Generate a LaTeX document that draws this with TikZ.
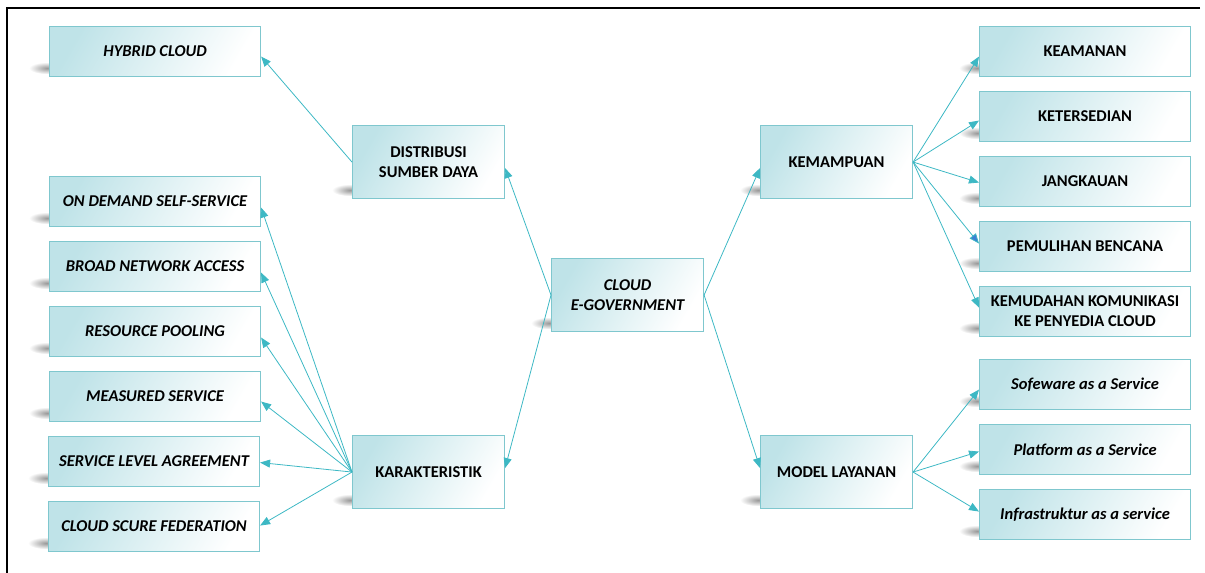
\documentclass[tikz,border=0pt]{standalone}
\usepackage{fontspec}
\setmainfont{Carlito}
\usetikzlibrary{arrows.meta}
\definecolor{edgec}{HTML}{7FC7CE}
\definecolor{boxL}{HTML}{BFE3E8}
\definecolor{arr}{HTML}{3DB8C4}
\definecolor{arrB}{HTML}{3B80D4}
\pgfdeclarelayer{background}
\pgfsetlayers{background,main}
\begin{document}
\begin{tikzpicture}[x=1pt,y=-1pt,
  box/.style={draw=edgec, line width=1.1pt, left color=boxL, right color=white, shading angle=60,
    anchor=north west, inner sep=0pt, align=center,
    font=\fontsize{16.5}{20}\selectfont\bfseries},
  ibox/.style={box, font=\fontsize{16.5}{20}\selectfont\bfseries\itshape},
  sidebox/.style={minimum width=211pt, minimum height=50pt},
  midbox/.style={minimum width=152pt, minimum height=73pt},
  link/.style={draw=arr, line width=0.8pt, -{Triangle[length=10pt,width=8pt]}},
  frame/.style={line width=2pt, draw=black}
]
\useasboundingbox (0,0) rectangle (1205,573);
\draw[frame] (1200,8) -- (7,8) -- (7,573);

% left column
\node[ibox, sidebox] (hyb) at (49,26) {HYBRID CLOUD};
\node[ibox, sidebox] (ond) at (49,176) {ON DEMAND SELF-SERVICE};
\node[ibox, sidebox] (bro) at (49,241) {BROAD NETWORK ACCESS};
\node[ibox, sidebox] (res) at (49,306) {RESOURCE POOLING};
\node[ibox, sidebox] (mea) at (49,371) {MEASURED SERVICE};
\node[ibox, sidebox] (sla) at (48,436) {SERVICE LEVEL AGREEMENT};
\node[ibox, sidebox] (csf) at (48,501) {CLOUD SCURE FEDERATION};

% middle
\node[box, midbox] (dis) at (352,125) {DISTRIBUSI\\SUMBER DAYA};
\node[box, midbox] (kar) at (352,435) {KARAKTERISTIK};
\node[ibox, midbox] (cld) at (551,258) {CLOUD\\E-GOVERNMENT};
\node[box, midbox] (kem) at (760,125) {KEMAMPUAN};
\node[box, midbox] (mod) at (760,435) {MODEL LAYANAN};

% right column
\node[box, sidebox] (kea) at (979,26) {KEAMANAN};
\node[box, sidebox] (ket) at (979,91) {KETERSEDIAN};
\node[box, sidebox] (jan) at (979,156) {JANGKAUAN};
\node[box, sidebox] (pem) at (979,221) {PEMULIHAN BENCANA};
\node[box, sidebox] (kmd) at (979,286) {KEMUDAHAN KOMUNIKASI\\KE PENYEDIA CLOUD};
\node[ibox, sidebox] (sof) at (979,359) {Sofeware as a Service};
\node[ibox, sidebox] (pla) at (979,424) {Platform as a Service};
\node[ibox, sidebox] (inf) at (979,489) {Infrastruktur as a service};

% shadows
\begin{pgfonlayer}{background}
\foreach \n in {hyb,ond,bro,res,mea,sla,csf,dis,kar,cld,kem,mod,kea,ket,jan,pem,kmd,sof,pla,inf}{
  \shade[inner color=black!40, outer color=white] ([xshift=-2pt,yshift=9pt]\n.south west) ellipse (18pt and 6pt);
}
\end{pgfonlayer}

% connectors
\draw[link] (dis.west) -- ([yshift=-5pt]hyb.east);
\draw[link] (cld.west) -- ([yshift=-6pt]dis.east);
\draw[link] (cld.west) -- ([yshift=4pt]kar.east);
\draw[link] (cld.east) -- ([yshift=-6pt]kem.west);
\draw[link] (cld.east) -- ([yshift=4pt]mod.west);

\draw[link] (kem.east) -- ([yshift=-5pt]kea.west);
\draw[link] (kem.east) -- ([yshift=-4pt]ket.west);
\draw[link] (kem.east) -- ([yshift=-1pt]jan.west);
\draw[link, -{Triangle[length=10pt,width=8pt,fill=arrB]}] (kem.east) -- ([yshift=3pt]pem.west);
\draw[link] (kem.east) -- ([yshift=4pt]kmd.west);

\draw[link] (mod.east) -- ([yshift=-5pt]sof.west);
\draw[link] (mod.east) -- ([yshift=-2pt]pla.west);
\draw[link] (mod.east) -- ([yshift=3pt]inf.west);

\draw[link] (kar.west) -- ([yshift=-6pt]ond.east);
\draw[link] (kar.west) -- ([yshift=-6pt]bro.east);
\draw[link] (kar.west) -- ([yshift=-6pt]res.east);
\draw[link] (kar.west) -- ([yshift=-5pt]mea.east);
\draw[link] (kar.west) -- ([yshift=-1pt]sla.east);
\draw[link] (kar.west) -- ([yshift=1pt]csf.east);
\end{tikzpicture}
\end{document}
